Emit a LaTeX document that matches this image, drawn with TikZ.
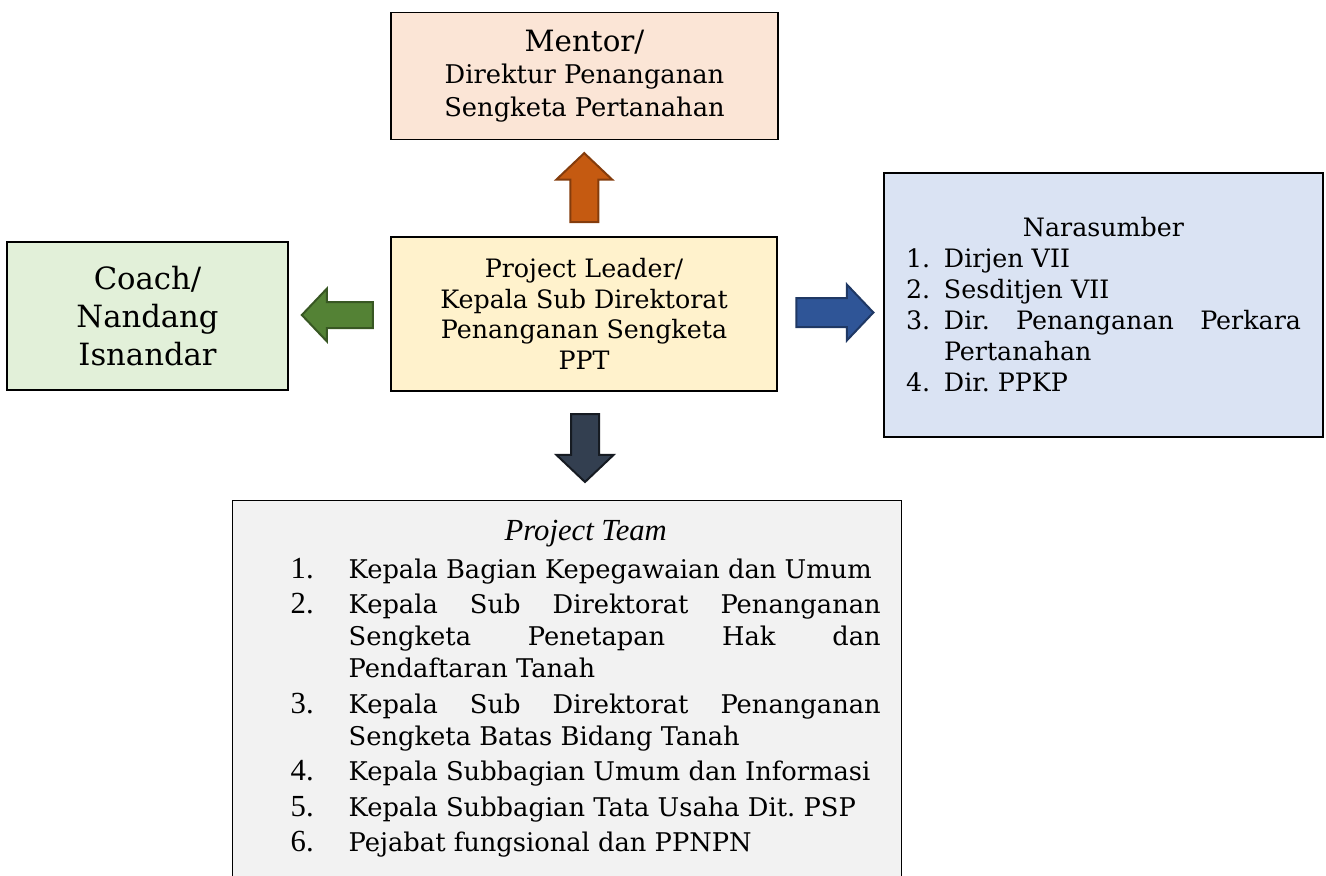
\documentclass[tikz,border=0pt]{standalone}
\usepackage{fontspec}
\setmainfont{DejaVu Serif}
\newfontfamily\timesfont{Liberation Serif}
\usetikzlibrary{positioning,calc,shapes.arrows}
\definecolor{mentorbg}{HTML}{FBE5D6}
\definecolor{leadbg}{HTML}{FFF2CC}
\definecolor{coachbg}{HTML}{E2F0D9}
\definecolor{narabg}{HTML}{DAE3F3}
\definecolor{teambg}{HTML}{F2F2F2}
\definecolor{upfill}{HTML}{C55A11}\definecolor{upline}{HTML}{843C0C}
\definecolor{leftfill}{HTML}{548235}\definecolor{leftline}{HTML}{385723}
\definecolor{rightfill}{HTML}{2F5597}\definecolor{rightline}{HTML}{1F3864}
\definecolor{downfill}{HTML}{333F50}\definecolor{downline}{HTML}{161B22}
\newcommand{\bodyfont}[2]{\fontsize{#1}{#2}\selectfont\frenchspacing\hyphenpenalty=10000\relax}
\newcommand{\naraitem}[2]{\par\noindent\hangindent=28.5pt\hangafter=1\makebox[28.5pt][l]{#1}#2}
\newcommand{\teamitem}[2]{\par\noindent\hangindent=43.5pt\hangafter=1\makebox[43.5pt][l]{\timesfont\fontsize{23}{24}\selectfont #1}#2}
\begin{document}
\begin{tikzpicture}[x=0.75pt,y=-0.75pt,
    box/.style={draw=black,line width=1.1pt,inner sep=0pt},
    body/.style 2 args={font=\bodyfont{#1}{#2}},
    blockarrow/.style={single arrow,inner sep=0pt,text depth=0pt,line width=1.5pt,single arrow tip angle=93}]
    \useasboundingbox (0,0) rectangle (1326,875);
    % boxes
    \node[box,fill=mentorbg,minimum width=290.25pt,minimum height=95.25pt,align=center,body={19.3pt}{24.5pt}] (mentor) at (584.5,76)
        {{\fontsize{22}{24}\selectfont Mentor/}\\Direktur Penanganan\\Sengketa Pertanahan};
    \node[box,fill=leadbg,minimum width=289.5pt,minimum height=115.5pt,align=center,body={19pt}{23pt}] (lead) at (584,314)
        {Project Leader/\\Kepala Sub Direktorat\\Penanganan Sengketa\\PPT};
    \node[box,fill=coachbg,minimum width=210.75pt,minimum height=111pt,align=center,font=\fontsize{23}{28.5}\selectfont] (coach) at (147.5,316)
        {Coach/\\Nandang\\Isnandar};
    \node[box,fill=narabg,minimum width=329.25pt,minimum height=198pt,text width=296.25pt,align=justify,body={19pt}{23.25pt}] (nara) at (1103.5,305)
        {\makebox[\linewidth]{Narasumber}
         \naraitem{1.}{Dirjen VII}
         \naraitem{2.}{Sesditjen VII}
         \naraitem{3.}{Dir. Penanganan Perkara Pertanahan}
         \naraitem{4.}{Dir. PPKP}\par};
    \node[box,fill=teambg,anchor=north west,text width=470.25pt,inner xsep=15.75pt,inner ysep=14.4pt,align=justify,body={19.3pt}{24pt}] (team) at (232,500)
        {\leftskip=27.75pt\parskip=2.6pt
         \noindent\hfil{\timesfont\itshape\fontsize{23}{24}\selectfont Project Team}\par\vspace{1.9pt}
         \teamitem{1.}{Kepala Bagian Kepegawaian dan Umum}
         \teamitem{2.}{Kepala Sub Direktorat Penanganan Sengketa Penetapan Hak dan Pendaftaran Tanah}
         \teamitem{3.}{Kepala Sub Direktorat Penanganan Sengketa Batas Bidang Tanah}
         \teamitem{4.}{Kepala Subbagian Umum dan Informasi}
         \teamitem{5.}{Kepala Subbagian Tata Usaha Dit. PSP}
         \teamitem{6.}{Pejabat fungsional dan PPNPN}\par\vspace{30pt}};
    % block arrows
    \node[blockarrow,fill=upfill,draw=upline,rotate=90,text height=19.5pt,minimum height=51.75pt,single arrow head extend=10.5pt] (toMentor) at ($(mentor.south)!.5!(lead.north)+(0,6)$) {};
    \node[blockarrow,fill=leftfill,draw=leftline,rotate=180,text height=18pt,minimum height=53.25pt,single arrow head extend=10pt] (toCoach) at ($(coach.east)!.5!(lead.west)+(4,0)$) {};
    \node[blockarrow,fill=rightfill,draw=rightline,text height=20.25pt,minimum height=57.75pt,single arrow head extend=10.1pt] (toNara) at ($(lead.east)!.5!(nara.west)+(-2.5,3)$) {};
    \node[blockarrow,fill=downfill,draw=downline,rotate=-90,text height=19.5pt,minimum height=51pt,single arrow head extend=10.9pt] (toTeam) at ($(lead.south)!.5!(team.north -| lead.south)+(1,-4.5)$) {};
\end{tikzpicture}
\end{document}
